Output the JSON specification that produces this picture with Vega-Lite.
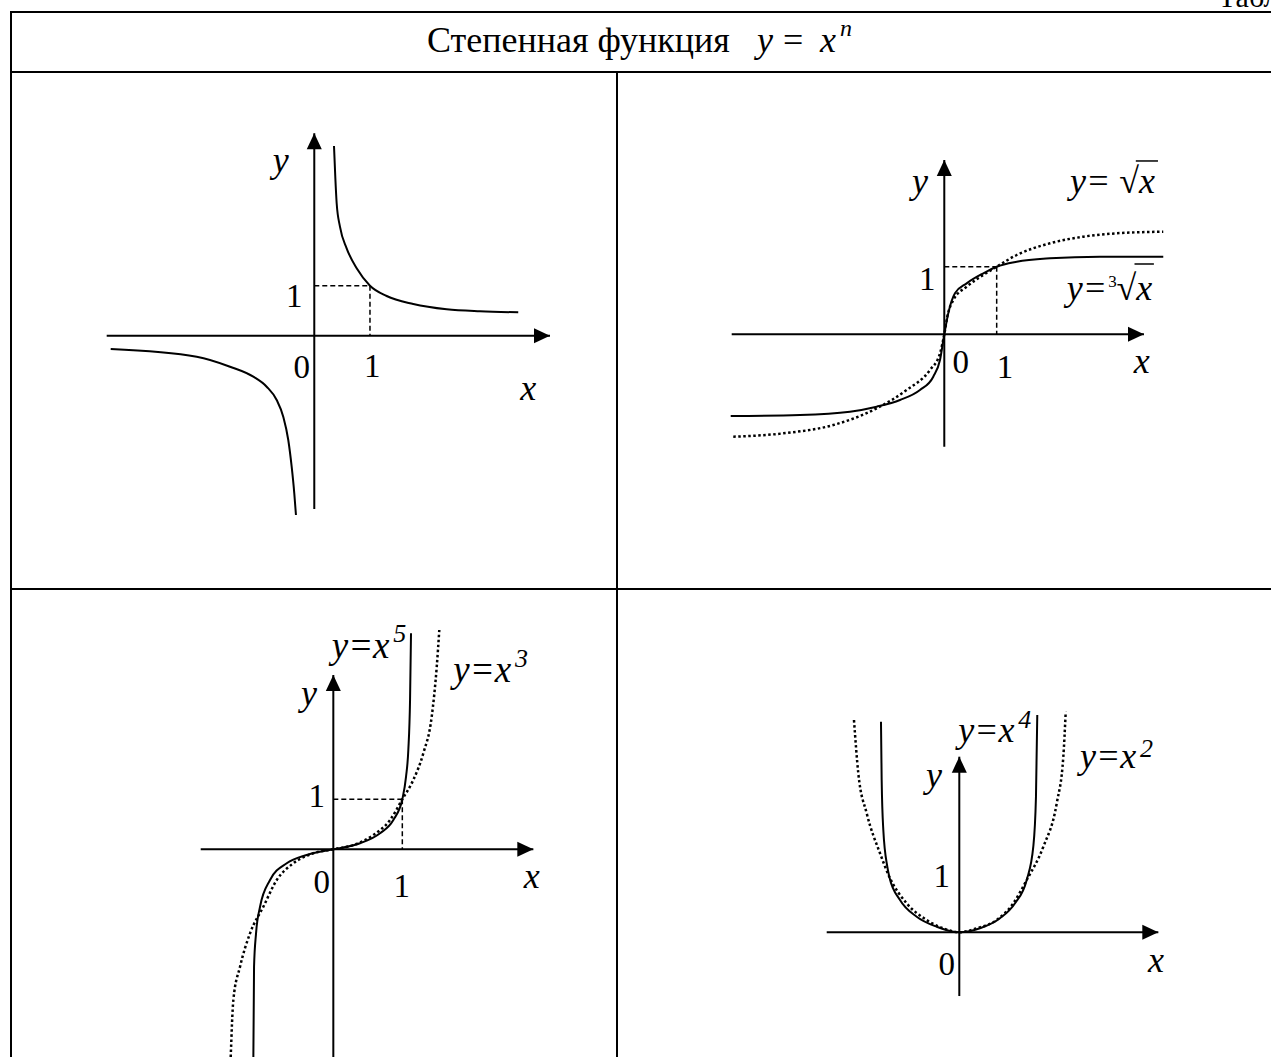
{
  "$schema": "https://vega.github.io/schema/vega-lite/v6.json",
  "padding": {"left": 10, "top": 0, "right": 0, "bottom": 0},
  "background": "white",
  "spacing": 0,
  "config": {
    "view": {"stroke": null},
    "text": {"font": "Liberation Serif", "color": "black"},
    "concat": {"spacing": 0}
  },
  "datasets": {
    "hd": [
      {"role": "caption", "t": "Таблица", "x": 1208, "y": 7},
      {"role": "title", "t": "Степенная функция", "x": 417, "y": 52},
      {"role": "var", "t": "y", "x": 747, "y": 52},
      {"role": "title", "t": "=", "x": 773, "y": 52},
      {"role": "var", "t": "x", "x": 810, "y": 52},
      {"role": "exp", "t": "n", "x": 830, "y": 36}
    ],
    "f1": [
      {"s": "pos", "x": 0.354, "y": 3.794}, {"s": "pos", "x": 0.377, "y": 3.18}, {"s": "pos", "x": 0.402, "y": 2.648},
      {"s": "pos", "x": 0.461, "y": 2.18}, {"s": "pos", "x": 0.581, "y": 1.748}, {"s": "pos", "x": 0.761, "y": 1.347},
      {"s": "pos", "x": 1.0, "y": 1.0}, {"s": "pos", "x": 1.299, "y": 0.794}, {"s": "pos", "x": 1.777, "y": 0.634},
      {"s": "pos", "x": 2.377, "y": 0.528}, {"s": "pos", "x": 2.975, "y": 0.488}, {"s": "pos", "x": 3.662, "y": 0.468},
      {"s": "neg", "x": -3.655, "y": -0.266}, {"s": "neg", "x": -2.111, "y": -0.42}, {"s": "neg", "x": -1.513, "y": -0.62},
      {"s": "neg", "x": -1.095, "y": -0.82}, {"s": "neg", "x": -0.855, "y": -1.02}, {"s": "neg", "x": -0.675, "y": -1.286},
      {"s": "neg", "x": -0.557, "y": -1.62}, {"s": "neg", "x": -0.467, "y": -2.086}, {"s": "neg", "x": -0.406, "y": -2.62},
      {"s": "neg", "x": -0.359, "y": -3.152}, {"s": "neg", "x": -0.329, "y": -3.586}
    ],
    "a1": [
      {"kind": "axis", "dir": "x", "x": -3.727, "y": 0, "x2": 4.232, "y2": 0},
      {"kind": "axis", "dir": "y", "x": 0, "y": -3.466, "x2": 0, "y2": 4.048},
      {"kind": "guide", "x": 0, "y": 1, "x2": 1, "y2": 1},
      {"kind": "guide", "x": 1, "y": 1, "x2": 1, "y2": 0}
    ],
    "t1": [
      {"role": "tick", "t": "1", "x": -0.359, "y": 0.58},
      {"role": "tick", "t": "0", "x": -0.227, "y": -0.852},
      {"role": "tick", "t": "1", "x": 1.041, "y": -0.82},
      {"role": "var", "t": "y", "x": -0.603, "y": 3.28},
      {"role": "var", "t": "x", "x": 3.842, "y": -1.286}
    ],
    "f2": [
      {"s": "cbrt", "x": -4.076, "y": -1.209}, {"s": "cbrt", "x": -2.754, "y": -1.194}, {"s": "cbrt", "x": -1.8, "y": -1.145},
      {"s": "cbrt", "x": -1.29, "y": -1.071}, {"s": "cbrt", "x": -0.845, "y": -0.972}, {"s": "cbrt", "x": -0.464, "y": -0.824},
      {"s": "cbrt", "x": -0.21, "y": -0.627}, {"s": "cbrt", "x": -0.082, "y": -0.38}, {"s": "cbrt", "x": 0, "y": 0},
      {"s": "cbrt", "x": 0.076, "y": 0.311}, {"s": "cbrt", "x": 0.204, "y": 0.607}, {"s": "cbrt", "x": 0.427, "y": 0.754},
      {"s": "cbrt", "x": 0.744, "y": 0.902}, {"s": "cbrt", "x": 1.0, "y": 1.0}, {"s": "cbrt", "x": 1.382, "y": 1.074},
      {"s": "cbrt", "x": 2.017, "y": 1.124}, {"s": "cbrt", "x": 2.971, "y": 1.148}, {"s": "cbrt", "x": 4.179, "y": 1.148},
      {"s": "sqrt", "x": -4.027, "y": -1.515}, {"s": "sqrt", "x": -3.073, "y": -1.465}, {"s": "sqrt", "x": -2.118, "y": -1.342},
      {"s": "sqrt", "x": -1.29, "y": -1.095}, {"s": "sqrt", "x": -0.718, "y": -0.824}, {"s": "sqrt", "x": -0.273, "y": -0.528},
      {"s": "sqrt", "x": -0.082, "y": -0.281}, {"s": "sqrt", "x": 0, "y": 0}, {"s": "sqrt", "x": 0.057, "y": 0.26},
      {"s": "sqrt", "x": 0.172, "y": 0.507}, {"s": "sqrt", "x": 0.427, "y": 0.704}, {"s": "sqrt", "x": 0.744, "y": 0.877},
      {"s": "sqrt", "x": 1.0, "y": 1.0}, {"s": "sqrt", "x": 1.382, "y": 1.173}, {"s": "sqrt", "x": 2.017, "y": 1.346},
      {"s": "sqrt", "x": 2.653, "y": 1.444}, {"s": "sqrt", "x": 3.29, "y": 1.494}, {"s": "sqrt", "x": 4.179, "y": 1.518}
    ],
    "a2": [
      {"kind": "axis", "dir": "x", "x": -4.057, "y": 0, "x2": 3.811, "y2": 0},
      {"kind": "axis", "dir": "y", "x": 0, "y": -1.663, "x2": 0, "y2": 2.578},
      {"kind": "guide", "x": 0, "y": 1, "x2": 1, "y2": 1},
      {"kind": "guide", "x": 1, "y": 1, "x2": 1, "y2": 0},
      {"kind": "bar", "x": 3.655, "y": 2.564, "x2": 4.078, "y2": 2.564},
      {"kind": "bar", "x": 3.63, "y": 1.04, "x2": 4.0, "y2": 1.04}
    ],
    "t2": [
      {"role": "tick", "t": "1", "x": -0.324, "y": 0.655},
      {"role": "tick", "t": "0", "x": 0.313, "y": -0.577},
      {"role": "tick", "t": "1", "x": 1.158, "y": -0.651},
      {"role": "var", "t": "y", "x": -0.464, "y": 2.086},
      {"role": "var", "t": "x", "x": 3.767, "y": -0.577},
      {"role": "formula", "t": "y= √x", "x": 2.399, "y": 2.086},
      {"role": "formula", "t": "y=", "x": 2.336, "y": 0.507},
      {"role": "formula", "t": "√x", "x": 3.286, "y": 0.507},
      {"role": "exp", "t": "3", "x": 3.13, "y": 0.704}
    ],
    "f3": [
      {"s": "x5", "x": -1.159, "y": -4.154}, {"s": "x5", "x": -1.149, "y": -2.348}, {"s": "x5", "x": -1.12, "y": -1.68},
      {"s": "x5", "x": -1.062, "y": -1.148}, {"s": "x5", "x": -0.917, "y": -0.614}, {"s": "x5", "x": -0.675, "y": -0.28},
      {"s": "x5", "x": -0.386, "y": -0.114}, {"s": "x5", "x": 0, "y": 0}, {"s": "x5", "x": 0.387, "y": 0.12},
      {"s": "x5", "x": 0.677, "y": 0.32}, {"s": "x5", "x": 0.87, "y": 0.586}, {"s": "x5", "x": 1.0, "y": 1.0},
      {"s": "x5", "x": 1.054, "y": 1.452}, {"s": "x5", "x": 1.087, "y": 1.986}, {"s": "x5", "x": 1.112, "y": 2.986},
      {"s": "x5", "x": 1.126, "y": 4.32},
      {"s": "x3", "x": -1.487, "y": -4.154}, {"s": "x3", "x": -1.449, "y": -3.014}, {"s": "x3", "x": -1.352, "y": -2.348},
      {"s": "x3", "x": -1.207, "y": -1.68}, {"s": "x3", "x": -1.014, "y": -1.148}, {"s": "x3", "x": -0.82, "y": -0.614},
      {"s": "x3", "x": -0.58, "y": -0.28}, {"s": "x3", "x": -0.29, "y": -0.08}, {"s": "x3", "x": 0, "y": 0},
      {"s": "x3", "x": 0.29, "y": 0.086}, {"s": "x3", "x": 0.58, "y": 0.286}, {"s": "x3", "x": 0.822, "y": 0.586},
      {"s": "x3", "x": 1.0, "y": 1.0}, {"s": "x3", "x": 1.159, "y": 1.386}, {"s": "x3", "x": 1.304, "y": 1.92},
      {"s": "x3", "x": 1.426, "y": 2.652}, {"s": "x3", "x": 1.499, "y": 3.652}, {"s": "x3", "x": 1.536, "y": 4.386}
    ],
    "a3": [
      {"kind": "axis", "dir": "x", "x": -1.922, "y": 0, "x2": 2.899, "y2": 0},
      {"kind": "axis", "dir": "y", "x": 0, "y": -4.154, "x2": 0, "y2": 3.486},
      {"kind": "guide", "x": 0, "y": 1, "x2": 1, "y2": 1},
      {"kind": "guide", "x": 1, "y": 1, "x2": 1, "y2": 0}
    ],
    "t3": [
      {"role": "tick", "t": "1", "x": -0.241, "y": 0.852},
      {"role": "tick", "t": "0", "x": -0.168, "y": -0.88},
      {"role": "tick", "t": "1", "x": 0.991, "y": -0.948},
      {"role": "var", "t": "y", "x": -0.352, "y": 2.886},
      {"role": "var", "t": "x", "x": 2.875, "y": -0.78},
      {"role": "formula", "t": "y=x", "x": -0.023, "y": 3.82},
      {"role": "formula", "t": "y=x", "x": 1.739, "y": 3.352},
      {"role": "exp", "t": "5", "x": 0.87, "y": 4.152},
      {"role": "exp", "t": "3", "x": 2.633, "y": 3.652}
    ],
    "f4": [
      {"s": "x4", "x": -1.14, "y": 3.9}, {"s": "x4", "x": -1.13, "y": 2.82}, {"s": "x4", "x": -1.106, "y": 1.894},
      {"s": "x4", "x": -1.048, "y": 1.215}, {"s": "x4", "x": -1.019, "y": 1.03}, {"s": "x4", "x": -0.863, "y": 0.598},
      {"s": "x4", "x": -0.62, "y": 0.289}, {"s": "x4", "x": -0.329, "y": 0.104}, {"s": "x4", "x": 0, "y": 0},
      {"s": "x4", "x": 0.301, "y": 0.074}, {"s": "x4", "x": 0.592, "y": 0.259}, {"s": "x4", "x": 0.811, "y": 0.537},
      {"s": "x4", "x": 0.981, "y": 0.969}, {"s": "x4", "x": 1.077, "y": 1.585}, {"s": "x4", "x": 1.116, "y": 2.511},
      {"s": "x4", "x": 1.135, "y": 4.024},
      {"s": "x2", "x": -1.533, "y": 3.931}, {"s": "x2", "x": -1.47, "y": 2.944}, {"s": "x2", "x": -1.348, "y": 2.204},
      {"s": "x2", "x": -1.154, "y": 1.463}, {"s": "x2", "x": -1.019, "y": 1.03}, {"s": "x2", "x": -0.766, "y": 0.537},
      {"s": "x2", "x": -0.475, "y": 0.228}, {"s": "x2", "x": -0.233, "y": 0.074}, {"s": "x2", "x": 0, "y": 0},
      {"s": "x2", "x": 0.253, "y": 0.074}, {"s": "x2", "x": 0.544, "y": 0.228}, {"s": "x2", "x": 0.786, "y": 0.537},
      {"s": "x2", "x": 0.981, "y": 0.969}, {"s": "x2", "x": 1.223, "y": 1.585}, {"s": "x2", "x": 1.418, "y": 2.389},
      {"s": "x2", "x": 1.514, "y": 3.252}, {"s": "x2", "x": 1.549, "y": 4.085}
    ],
    "a4": [
      {"kind": "axis", "dir": "x", "x": -1.93, "y": 0, "x2": 2.897, "y2": 0},
      {"kind": "axis", "dir": "y", "x": 0, "y": -1.18, "x2": 0, "y2": 3.252}
    ],
    "t4": [
      {"role": "tick", "t": "1", "x": -0.256, "y": 0.844},
      {"role": "tick", "t": "0", "x": -0.183, "y": -0.791},
      {"role": "var", "t": "y", "x": -0.368, "y": 2.696},
      {"role": "var", "t": "x", "x": 2.863, "y": -0.73},
      {"role": "formula", "t": "y=x", "x": -0.015, "y": 3.53},
      {"role": "formula", "t": "y=x", "x": 1.757, "y": 3.037},
      {"role": "exp", "t": "4", "x": 0.859, "y": 3.778},
      {"role": "exp", "t": "2", "x": 2.63, "y": 3.252}
    ]
  },
  "vconcat": [
    {
      "width": 1261, "height": 71,
      "data": {"name": "hd"},
      "encoding": {
        "x": {"field": "x", "type": "quantitative", "scale": {"domain": [0, 1261], "nice": false, "zero": false}, "axis": null},
        "y": {"field": "y", "type": "quantitative", "scale": {"domain": [71, 0], "nice": false, "zero": false}, "axis": null}
      },
      "layer": [
        {"data": {"values": [{}]}, "mark": {"type": "rect", "color": "black"}, "encoding": {"x": {"value": 0}, "x2": {"value": "width"}, "y": {"value": 11}, "y2": {"value": 13}}},
        {"data": {"values": [{}]}, "mark": {"type": "rect", "color": "black"}, "encoding": {"x": {"value": 0}, "x2": {"value": 2}, "y": {"value": 11}, "y2": {"value": "height"}}},
        {"transform": [{"filter": "datum.role == 'caption'"}], "mark": {"type": "text", "align": "left", "baseline": "alphabetic", "fontSize": 30, "clip": true}, "encoding": {"text": {"field": "t"}}},
        {"transform": [{"filter": "datum.role == 'title'"}], "mark": {"type": "text", "align": "left", "baseline": "alphabetic", "fontSize": 36}, "encoding": {"text": {"field": "t"}}},
        {"transform": [{"filter": "datum.role == 'var'"}], "mark": {"type": "text", "align": "left", "baseline": "alphabetic", "fontSize": 36, "fontStyle": "italic"}, "encoding": {"text": {"field": "t"}}},
        {"transform": [{"filter": "datum.role == 'exp'"}], "mark": {"type": "text", "align": "left", "baseline": "alphabetic", "fontSize": 24, "fontStyle": "italic"}, "encoding": {"text": {"field": "t"}}}
      ]
    },
    {
      "hconcat": [
        {
          "width": 606, "height": 517,
          "encoding": {
            "x": {"field": "x", "type": "quantitative", "scale": {"domain": [-5.463, 5.417], "nice": false, "zero": false}, "axis": null},
            "y": {"field": "y", "type": "quantitative", "scale": {"domain": [-5.046, 5.294], "nice": false, "zero": false}, "axis": null}
          },
          "layer": [
            {"data": {"values": [{}]}, "mark": {"type": "rect", "color": "black"}, "encoding": {"x": {"value": 0}, "x2": {"value": "width"}, "y": {"value": 0}, "y2": {"value": 2}}},
            {"data": {"values": [{}]}, "mark": {"type": "rect", "color": "black"}, "encoding": {"x": {"value": 0}, "x2": {"value": 2}, "y": {"value": 0}, "y2": {"value": "height"}}},
            {"data": {"name": "a1"}, "transform": [{"filter": "datum.kind == 'axis'"}], "mark": {"type": "rule", "strokeWidth": 2, "color": "black"}, "encoding": {"x2": {"field": "x2"}, "y2": {"field": "y2"}}},
            {"data": {"name": "a1"}, "transform": [{"filter": "datum.kind == 'guide'"}], "mark": {"type": "rule", "strokeWidth": 1.5, "strokeDash": [5, 3], "color": "black"}, "encoding": {"x2": {"field": "x2"}, "y2": {"field": "y2"}}},
            {"data": {"name": "a1"}, "transform": [{"filter": "datum.kind == 'axis'"}], "mark": {"type": "point", "filled": true, "opacity": 1, "color": "black", "size": 256, "strokeWidth": 0},
             "encoding": {
               "x": {"field": "x2", "type": "quantitative", "scale": {"domain": [-5.463, 5.417], "nice": false, "zero": false}, "axis": null},
               "y": {"field": "y2", "type": "quantitative", "scale": {"domain": [-5.046, 5.294], "nice": false, "zero": false}, "axis": null},
               "shape": {"field": "dir", "type": "nominal", "scale": {"domain": ["x", "y"], "range": ["M0,0L-2,-0.94L-2,0.94Z", "M0,0L-0.94,2L0.94,2Z"]}, "legend": null}}},
            {"data": {"name": "f1"}, "mark": {"type": "line", "strokeWidth": 2, "color": "black", "interpolate": "monotone", "clip": true}, "encoding": {"detail": {"field": "s"}}},
            {"data": {"name": "t1"}, "transform": [{"filter": "datum.role == 'tick'"}], "mark": {"type": "text", "fontSize": 33, "align": "center", "baseline": "alphabetic"}, "encoding": {"text": {"field": "t"}}},
            {"data": {"name": "t1"}, "transform": [{"filter": "datum.role == 'var'"}], "mark": {"type": "text", "fontSize": 36, "fontStyle": "italic", "align": "center", "baseline": "alphabetic"}, "encoding": {"text": {"field": "t"}}}
          ]
        },
        {
          "width": 655, "height": 517,
          "encoding": {
            "x": {"field": "x", "type": "quantitative", "scale": {"domain": [-6.265, 6.235], "nice": false, "zero": false}, "axis": null},
            "y": {"field": "y", "type": "quantitative", "scale": {"domain": [-3.753, 3.895], "nice": false, "zero": false}, "axis": null}
          },
          "layer": [
            {"data": {"values": [{}]}, "mark": {"type": "rect", "color": "black"}, "encoding": {"x": {"value": 0}, "x2": {"value": "width"}, "y": {"value": 0}, "y2": {"value": 2}}},
            {"data": {"values": [{}]}, "mark": {"type": "rect", "color": "black"}, "encoding": {"x": {"value": 0}, "x2": {"value": 2}, "y": {"value": 0}, "y2": {"value": "height"}}},
            {"data": {"name": "a2"}, "transform": [{"filter": "datum.kind == 'axis'"}], "mark": {"type": "rule", "strokeWidth": 2, "color": "black"}, "encoding": {"x2": {"field": "x2"}, "y2": {"field": "y2"}}},
            {"data": {"name": "a2"}, "transform": [{"filter": "datum.kind == 'guide'"}], "mark": {"type": "rule", "strokeWidth": 1.5, "strokeDash": [5, 3], "color": "black"}, "encoding": {"x2": {"field": "x2"}, "y2": {"field": "y2"}}},
            {"data": {"name": "a2"}, "transform": [{"filter": "datum.kind == 'bar'"}], "mark": {"type": "rule", "strokeWidth": 1.5, "color": "black"}, "encoding": {"x2": {"field": "x2"}, "y2": {"field": "y2"}}},
            {"data": {"name": "a2"}, "transform": [{"filter": "datum.kind == 'axis'"}], "mark": {"type": "point", "filled": true, "opacity": 1, "color": "black", "size": 256, "strokeWidth": 0},
             "encoding": {
               "x": {"field": "x2", "type": "quantitative", "scale": {"domain": [-6.265, 6.235], "nice": false, "zero": false}, "axis": null},
               "y": {"field": "y2", "type": "quantitative", "scale": {"domain": [-3.753, 3.895], "nice": false, "zero": false}, "axis": null},
               "shape": {"field": "dir", "type": "nominal", "scale": {"domain": ["x", "y"], "range": ["M0,0L-2,-0.94L-2,0.94Z", "M0,0L-0.94,2L0.94,2Z"]}, "legend": null}}},
            {"data": {"name": "f2"}, "transform": [{"filter": "datum.s == 'cbrt'"}], "mark": {"type": "line", "strokeWidth": 2, "color": "black", "interpolate": "monotone", "clip": true}},
            {"data": {"name": "f2"}, "transform": [{"filter": "datum.s == 'sqrt'"}], "mark": {"type": "line", "strokeWidth": 2.5, "strokeDash": [2.5, 2.5], "color": "black", "interpolate": "monotone", "clip": true}},
            {"data": {"name": "t2"}, "transform": [{"filter": "datum.role == 'tick'"}], "mark": {"type": "text", "fontSize": 33, "align": "center", "baseline": "alphabetic"}, "encoding": {"text": {"field": "t"}}},
            {"data": {"name": "t2"}, "transform": [{"filter": "datum.role == 'var'"}], "mark": {"type": "text", "fontSize": 36, "fontStyle": "italic", "align": "center", "baseline": "alphabetic"}, "encoding": {"text": {"field": "t"}}},
            {"data": {"name": "t2"}, "transform": [{"filter": "datum.role == 'formula'"}], "mark": {"type": "text", "fontSize": 36, "fontStyle": "italic", "align": "left", "baseline": "alphabetic"}, "encoding": {"text": {"field": "t"}}},
            {"data": {"name": "t2"}, "transform": [{"filter": "datum.role == 'exp'"}], "mark": {"type": "text", "fontSize": 17, "align": "left", "baseline": "alphabetic"}, "encoding": {"text": {"field": "t"}}}
          ]
        }
      ],
      "spacing": 0,
      "bounds": "flush"
    },
    {
      "hconcat": [
        {
          "width": 606, "height": 469,
          "encoding": {
            "x": {"field": "x", "type": "quantitative", "scale": {"domain": [-4.686, 4.097], "nice": false, "zero": false}, "axis": null},
            "y": {"field": "y", "type": "quantitative", "scale": {"domain": [-4.154, 5.226], "nice": false, "zero": false}, "axis": null}
          },
          "layer": [
            {"data": {"values": [{}]}, "mark": {"type": "rect", "color": "black"}, "encoding": {"x": {"value": 0}, "x2": {"value": "width"}, "y": {"value": 0}, "y2": {"value": 2}}},
            {"data": {"values": [{}]}, "mark": {"type": "rect", "color": "black"}, "encoding": {"x": {"value": 0}, "x2": {"value": 2}, "y": {"value": 0}, "y2": {"value": "height"}}},
            {"data": {"name": "a3"}, "transform": [{"filter": "datum.kind == 'axis'"}], "mark": {"type": "rule", "strokeWidth": 2, "color": "black", "clip": true}, "encoding": {"x2": {"field": "x2"}, "y2": {"field": "y2"}}},
            {"data": {"name": "a3"}, "transform": [{"filter": "datum.kind == 'guide'"}], "mark": {"type": "rule", "strokeWidth": 1.5, "strokeDash": [5, 3], "color": "black"}, "encoding": {"x2": {"field": "x2"}, "y2": {"field": "y2"}}},
            {"data": {"name": "a3"}, "transform": [{"filter": "datum.kind == 'axis'"}], "mark": {"type": "point", "filled": true, "opacity": 1, "color": "black", "size": 256, "strokeWidth": 0},
             "encoding": {
               "x": {"field": "x2", "type": "quantitative", "scale": {"domain": [-4.686, 4.097], "nice": false, "zero": false}, "axis": null},
               "y": {"field": "y2", "type": "quantitative", "scale": {"domain": [-4.154, 5.226], "nice": false, "zero": false}, "axis": null},
               "shape": {"field": "dir", "type": "nominal", "scale": {"domain": ["x", "y"], "range": ["M0,0L-2,-0.94L-2,0.94Z", "M0,0L-0.94,2L0.94,2Z"]}, "legend": null}}},
            {"data": {"name": "f3"}, "transform": [{"filter": "datum.s == 'x5'"}], "mark": {"type": "line", "strokeWidth": 2, "color": "black", "interpolate": "monotone", "clip": true}},
            {"data": {"name": "f3"}, "transform": [{"filter": "datum.s == 'x3'"}], "mark": {"type": "line", "strokeWidth": 2.5, "strokeDash": [2.5, 2.5], "color": "black", "interpolate": "monotone", "clip": true}},
            {"data": {"name": "t3"}, "transform": [{"filter": "datum.role == 'tick'"}], "mark": {"type": "text", "fontSize": 33, "align": "center", "baseline": "alphabetic"}, "encoding": {"text": {"field": "t"}}},
            {"data": {"name": "t3"}, "transform": [{"filter": "datum.role == 'var'"}], "mark": {"type": "text", "fontSize": 36, "fontStyle": "italic", "align": "center", "baseline": "alphabetic"}, "encoding": {"text": {"field": "t"}}},
            {"data": {"name": "t3"}, "transform": [{"filter": "datum.role == 'formula'"}], "mark": {"type": "text", "fontSize": 37, "fontStyle": "italic", "align": "left", "baseline": "alphabetic"}, "encoding": {"text": {"field": "t"}}},
            {"data": {"name": "t3"}, "transform": [{"filter": "datum.role == 'exp'"}], "mark": {"type": "text", "fontSize": 26, "fontStyle": "italic", "align": "left", "baseline": "alphabetic"}, "encoding": {"text": {"field": "t"}}}
          ]
        },
        {
          "width": 655, "height": 469,
          "encoding": {
            "x": {"field": "x", "type": "quantitative", "scale": {"domain": [-4.997, 4.537], "nice": false, "zero": false}, "axis": null},
            "y": {"field": "y", "type": "quantitative", "scale": {"domain": [-2.309, 6.376], "nice": false, "zero": false}, "axis": null}
          },
          "layer": [
            {"data": {"values": [{}]}, "mark": {"type": "rect", "color": "black"}, "encoding": {"x": {"value": 0}, "x2": {"value": "width"}, "y": {"value": 0}, "y2": {"value": 2}}},
            {"data": {"values": [{}]}, "mark": {"type": "rect", "color": "black"}, "encoding": {"x": {"value": 0}, "x2": {"value": 2}, "y": {"value": 0}, "y2": {"value": "height"}}},
            {"data": {"name": "a4"}, "transform": [{"filter": "datum.kind == 'axis'"}], "mark": {"type": "rule", "strokeWidth": 2, "color": "black"}, "encoding": {"x2": {"field": "x2"}, "y2": {"field": "y2"}}},
            {"data": {"name": "a4"}, "transform": [{"filter": "datum.kind == 'axis'"}], "mark": {"type": "point", "filled": true, "opacity": 1, "color": "black", "size": 256, "strokeWidth": 0},
             "encoding": {
               "x": {"field": "x2", "type": "quantitative", "scale": {"domain": [-4.997, 4.537], "nice": false, "zero": false}, "axis": null},
               "y": {"field": "y2", "type": "quantitative", "scale": {"domain": [-2.309, 6.376], "nice": false, "zero": false}, "axis": null},
               "shape": {"field": "dir", "type": "nominal", "scale": {"domain": ["x", "y"], "range": ["M0,0L-2,-0.94L-2,0.94Z", "M0,0L-0.94,2L0.94,2Z"]}, "legend": null}}},
            {"data": {"name": "f4"}, "transform": [{"filter": "datum.s == 'x4'"}], "mark": {"type": "line", "strokeWidth": 2, "color": "black", "interpolate": "monotone", "clip": true}},
            {"data": {"name": "f4"}, "transform": [{"filter": "datum.s == 'x2'"}], "mark": {"type": "line", "strokeWidth": 2.5, "strokeDash": [2.5, 2.5], "color": "black", "interpolate": "monotone", "clip": true}},
            {"data": {"name": "t4"}, "transform": [{"filter": "datum.role == 'tick'"}], "mark": {"type": "text", "fontSize": 33, "align": "center", "baseline": "alphabetic"}, "encoding": {"text": {"field": "t"}}},
            {"data": {"name": "t4"}, "transform": [{"filter": "datum.role == 'var'"}], "mark": {"type": "text", "fontSize": 36, "fontStyle": "italic", "align": "center", "baseline": "alphabetic"}, "encoding": {"text": {"field": "t"}}},
            {"data": {"name": "t4"}, "transform": [{"filter": "datum.role == 'formula'"}], "mark": {"type": "text", "fontSize": 36, "fontStyle": "italic", "align": "left", "baseline": "alphabetic"}, "encoding": {"text": {"field": "t"}}},
            {"data": {"name": "t4"}, "transform": [{"filter": "datum.role == 'exp'"}], "mark": {"type": "text", "fontSize": 26, "fontStyle": "italic", "align": "left", "baseline": "alphabetic"}, "encoding": {"text": {"field": "t"}}}
          ]
        }
      ],
      "spacing": 0,
      "bounds": "flush"
    }
  ]
}
